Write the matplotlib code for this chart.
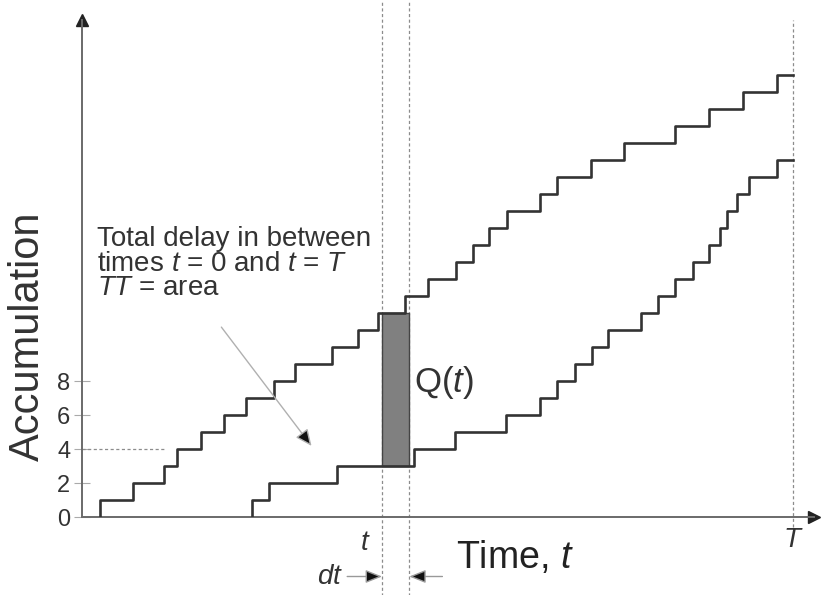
"""
Cumulative arrival / departure curves (queueing diagram).
Total delay between t = 0 and t = T is the area between the two step curves.
"""

import numpy as np
import matplotlib
matplotlib.use("Agg")
import matplotlib.pyplot as plt

plt.rcParams['font.family'] = ['Liberation Sans', 'DejaVu Sans']
plt.rcParams['mathtext.fontset'] = 'custom'
plt.rcParams['mathtext.rm'] = 'Liberation Sans'
plt.rcParams['mathtext.it'] = 'Liberation Sans:italic'

# arrival times (upper curve), one vehicle per step
arrival_times = [1.05, 3.0, 4.8, 5.6, 7.0, 8.35, 9.65, 11.3, 12.55, 14.7,
                 16.25, 17.4, 19.0, 20.35, 22.0, 23.0, 23.95, 25.0, 26.95,
                 27.95, 29.95, 31.9, 34.9, 36.9, 38.9, 40.9]
# departure times (lower curve)
departure_times = [10.0, 11.0, 15.0, 19.55, 21.95, 24.95, 26.95, 27.95, 29.0,
                   30.0, 30.95, 32.9, 33.9, 34.9, 35.95, 36.9, 37.5, 37.95,
                   38.5, 39.25, 40.9]
y_ticks = [0, 2, 4, 6, 8]
t_mark = 17.65      # time t
dt = 1.6            # strip width
T_end = 41.82       # time T

curve_color = '#333333'
axis_color = '#6a6a6a'
dash_color = '#8c8c8c'


def step_xy(times, t_end):
    x = [times[0]] + list(times) + [t_end]
    y = [0] + list(range(1, len(times) + 1)) + [len(times)]
    return x, y


def count_at(times, t):
    return int(np.searchsorted(times, t, side='right'))


fig = plt.figure(figsize=(8.21, 5.95), dpi=100)
# axes placed so the origin sits where the reference has it
ax = fig.add_axes([82 / 821, 78 / 595, (814 - 82) / 821, (517 - 20) / 595])
ax.set_xlim(0, (814 - 82) / 17)
ax.set_ylim(0, (517 - 20) / 17)

# spines: only left and bottom, with arrow heads
for s in ['top', 'right']:
    ax.spines[s].set_visible(False)
for s in ['left', 'bottom']:
    ax.spines[s].set_color(axis_color)
    ax.spines[s].set_linewidth(1.4)
ax.plot(0, 1, marker='^', color='#222222', markersize=9,
        transform=ax.transAxes, clip_on=False)
ax.plot(1, 0, marker='>', color='#222222', markersize=9,
        transform=ax.transAxes, clip_on=False)

ax.set_xticks([])
ax.set_yticks(y_ticks)
ax.set_yticklabels([str(v) for v in y_ticks], fontsize=17, color='#333333')
ax.tick_params(axis='y', direction='inout', length=11, width=0.8,
               color='#aaaaaa', pad=3)

ax.set_ylabel('Accumulation', fontsize=30, color='#333333',
              va='center', ha='center')
ax.yaxis.set_label_coords((28 - 82) / 732, (517 - 336) / 497)

# shaded strip Q(t) between the curves
q_top = count_at(arrival_times, t_mark)
q_bot = count_at(departure_times, t_mark)
ax.fill_between([t_mark, t_mark + dt], q_bot, q_top,
                facecolor='#808080', edgecolor='#444444', linewidth=1.0,
                zorder=2)

# step curves
xa, ya = step_xy(arrival_times, T_end)
xd, yd = step_xy(departure_times, T_end)
ax.step(xa, ya, where='post', color=curve_color, lw=1.9, zorder=3)
ax.step(xd, yd, where='post', color=curve_color, lw=1.9, zorder=3)

# dashed guides
for xv in [t_mark, t_mark + dt]:
    ax.axvline(xv, ymin=-0.16, ymax=1.04, color=dash_color, lw=0.9,
               ls=(0, (2.5, 2)), clip_on=False, zorder=1)
ax.axvline(T_end, ymin=-0.02, ymax=1.0, color=dash_color, lw=0.9,
           ls=(0, (2.5, 2)), clip_on=False, zorder=1)
ax.hlines(4, 0, 4.9, color=dash_color, lw=0.9, ls=(0, (2.5, 2)))

# labels
ax.text(0.88, 14.9,
        'Total delay in between\ntimes $t$ = 0 and $t$ = $T$\n$TT$ = area',
        fontsize=20, color='#333333', va='center', ha='left',
        linespacing=0.93)
ax.annotate('', xy=(13.6, 4.05), xytext=(8.1, 11.3),
            arrowprops=dict(arrowstyle='-|>,head_length=1.0,head_width=0.45',
                            ec='#b0b0b0', fc='#111111', lw=1.0))
ax.text(19.5, 7.9, 'Q($t$)', fontsize=25, color='#333333',
        va='center', ha='left')

ax.text(16.65, -1.55, '$t$', fontsize=20, color='#333333',
        va='center', ha='center', clip_on=False)
ax.text(T_end, -1.35, '$T$', fontsize=20, color='#333333',
        va='center', ha='center', clip_on=False)
ax.text(22.0, -2.4, 'Time, $t$', fontsize=27, color='#222222',
        va='center', ha='left', clip_on=False)
ax.text(15.35, -3.55, '$dt$', fontsize=20, color='#333333',
        va='center', ha='right', clip_on=False)
ax.annotate('', xy=(t_mark, -3.5), xytext=(15.6, -3.5),
            arrowprops=dict(arrowstyle='-|>,head_length=1.0,head_width=0.4',
                            ec='#999999', fc='#111111', lw=1.0,
                            shrinkA=0, shrinkB=0),
            annotation_clip=False)
ax.annotate('', xy=(t_mark + dt, -3.5), xytext=(21.2, -3.5),
            arrowprops=dict(arrowstyle='-|>,head_length=1.0,head_width=0.4',
                            ec='#999999', fc='#111111', lw=1.0,
                            shrinkA=0, shrinkB=0),
            annotation_clip=False)

fig.savefig('out.png', dpi=100)
